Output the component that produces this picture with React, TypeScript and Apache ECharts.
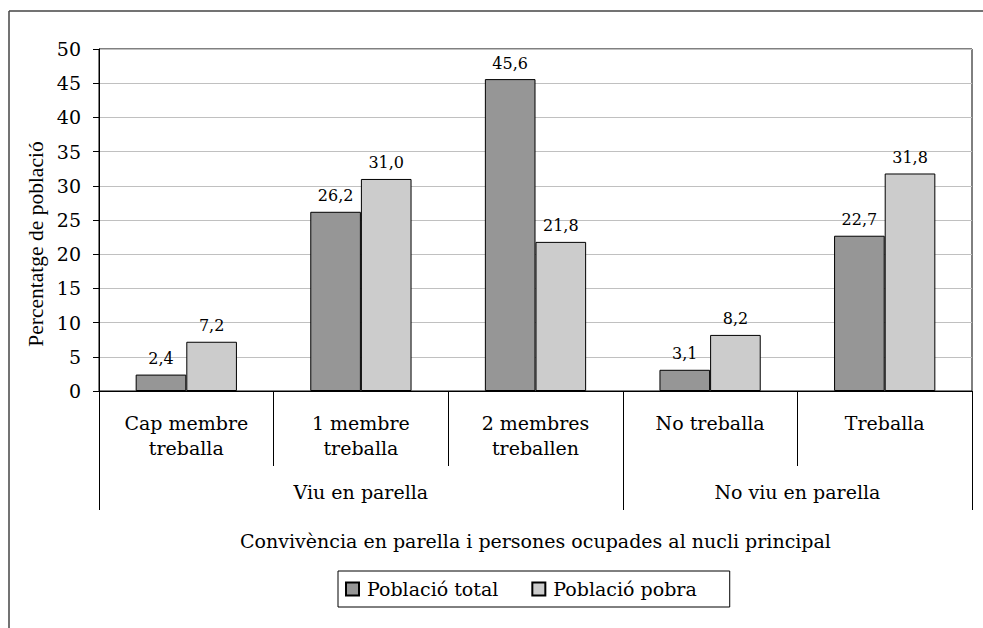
import React, { useEffect, useRef } from "react";
import * as echarts from "echarts";

const categories = ["Cap membre\ntreballa", "1 membre\ntreballa", "2 membres\ntreballen", "No treballa", "Treballa"];
const groupNames = ["Viu en parella", "No viu en parella"];
const groupSpans = [3, 2];
const seriesNames = ["Població total", "Població pobra"];
const totalValues = [2.4, 26.2, 45.6, 3.1, 22.7];
const pobraValues = [7.2, 31.0, 21.8, 8.2, 31.8];
const yTicks = { min: 0, max: 50, interval: 5 };
const xTitle = "Convivència en parella i persones ocupades al nucli principal";
const yTitle = "Percentatge de població";

const FONT = "'DejaVu Serif', 'Liberation Serif', serif";
const FS = 19;

export default function App() {
  const ref = useRef<HTMLDivElement>(null);
  useEffect(() => {
    if (!ref.current) return;
    const chart = echarts.init(ref.current, null, { renderer: "svg" });
    const bounds: number[] = [0];
    const centers: number[] = [];
    let acc = 0;
    groupSpans.forEach((s) => {
      centers.push(acc + s / 2);
      acc += s;
      bounds.push(acc);
    });
    const fmt = (v: number) => v.toFixed(1).replace(".", ",");
    const labelStyle = {
      show: true,
      position: "top",
      distance: 8,
      fontFamily: FONT,
      fontSize: 16,
      color: "#000",
      formatter: (p: any) => fmt(p.value),
    };
    chart.setOption({
      animation: false,
      textStyle: { fontFamily: FONT, color: "#000" },
      grid: {
        left: 99,
        top: 49,
        width: 873,
        height: 342,
        show: true,
        borderColor: "#000",
        borderWidth: 1,
        containLabel: false,
      },
      legend: {
        left: 338,
        top: 571,
        padding: [7, 33, 7, 7],
        borderColor: "#000",
        borderWidth: 1,
        itemWidth: 13,
        itemHeight: 13,
        itemGap: 33,
        icon: "rect",
        textStyle: { fontFamily: FONT, fontSize: FS, lineHeight: 22, color: "#000", padding: [0, 0, 0, 3] },
        data: seriesNames,
      },
      xAxis: [
        {
          type: "category",
          data: categories,
          axisLine: { lineStyle: { color: "#000", width: 1 } },
          axisTick: { show: true, length: 75, interval: 0, lineStyle: { color: "#000" } },
          axisLabel: {
            interval: 0,
            margin: 19,
            fontFamily: FONT,
            fontSize: FS,
            lineHeight: 25,
            color: "#000",
          },
          name: xTitle,
          nameLocation: "middle",
          nameGap: 140,
          nameTextStyle: { fontFamily: FONT, fontSize: FS, color: "#000" },
        },
        {
          type: "value",
          position: "bottom",
          min: 0,
          max: acc,
          axisLine: { show: false },
          splitLine: { show: false },
          axisTick: {
            show: true,
            length: 119,
            customValues: bounds,
            lineStyle: { color: "#000" },
          },
          axisLabel: {
            show: true,
            customValues: centers,
            margin: 91,
            fontFamily: FONT,
            fontSize: FS,
            color: "#000",
            formatter: (v: number) => {
              const i = centers.findIndex((c) => Math.abs(c - v) < 1e-6);
              return i >= 0 ? groupNames[i] : "";
            },
          },
        },
      ],
      yAxis: {
        type: "value",
        min: yTicks.min,
        max: yTicks.max,
        interval: yTicks.interval,
        axisLine: { show: true, lineStyle: { color: "#000" } },
        axisTick: { show: true, length: 6, lineStyle: { color: "#000" } },
        axisLabel: { margin: 18, fontFamily: FONT, fontSize: FS, color: "#000" },
        splitLine: { show: true, lineStyle: { color: "#c0c0c0", width: 1 } },
      },
      series: [
        {
          name: seriesNames[0],
          type: "bar",
          xAxisIndex: 0,
          data: totalValues,
          barGap: "0%",
          barCategoryGap: "42%",
          itemStyle: { color: "#969696", borderColor: "#000", borderWidth: 1 },
          label: labelStyle,
        },
        {
          name: seriesNames[1],
          type: "bar",
          xAxisIndex: 0,
          data: pobraValues,
          barGap: "0%",
          barCategoryGap: "42%",
          itemStyle: { color: "#cccccc", borderColor: "#000", borderWidth: 1 },
          label: labelStyle,
        },
      ],
      graphic: [
        { type: "line", shape: { x1: 9, y1: 11, x2: 983, y2: 11 }, style: { stroke: "#444", lineWidth: 1.5 } },
        { type: "line", shape: { x1: 9, y1: 11, x2: 9, y2: 628 }, style: { stroke: "#444", lineWidth: 1.5 } },
        {
          type: "text",
          x: 36,
          y: 244,
          rotation: Math.PI / 2,
          style: {
            text: yTitle,
            align: "center",
            verticalAlign: "middle",
            fontFamily: "'Liberation Serif', serif",
            fontSize: 21.5,
            fill: "#000",
          },
        },
      ],
    });
    return () => chart.dispose();
  }, []);
  return (
    <div
      ref={ref}
      style={{ position: "absolute", left: 0, top: 0, width: 983, height: 628, background: "#fff" }}
    />
  );
}
